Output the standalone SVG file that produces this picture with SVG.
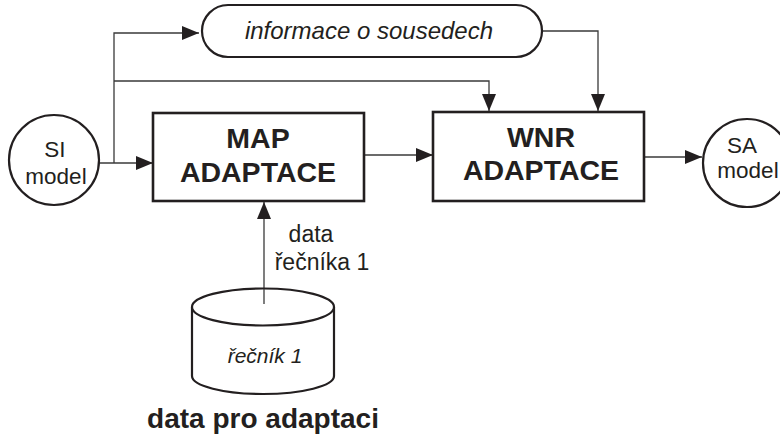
<svg xmlns="http://www.w3.org/2000/svg" width="780" height="439" viewBox="0 0 780 439">
<defs>
<marker id="arr" markerUnits="userSpaceOnUse" markerWidth="18" markerHeight="14" refX="17" refY="7" orient="auto">
<path d="M0,0 L17,7 L0,14 Z" fill="#231f20"/>
</marker>
<style>
.box{fill:#fff;stroke:#231f20;stroke-width:2.6}
.shape{fill:#fff;stroke:#231f20;stroke-width:2.2}
.con{fill:none;stroke:#3a3a3a;stroke-width:1.3}
.t{font-family:"Liberation Sans",Arial,sans-serif;fill:#231f20;text-anchor:middle}
.b{font-weight:bold;font-size:28.5px}
.i{font-style:italic}
</style>
</defs>
<rect width="780" height="439" fill="#fff"/>
<g id="connectors">
<line class="con" x1="99" y1="163" x2="153" y2="163" marker-end="url(#arr)"/>
<polyline class="con" points="114,163 114,33 199,33" marker-end="url(#arr)"/>
<polyline class="con" points="114,81 489,81 489,111" marker-end="url(#arr)"/>
<polyline class="con" points="542,31 598,31 598,111" marker-end="url(#arr)"/>
<line class="con" x1="364" y1="155" x2="433" y2="155" marker-end="url(#arr)"/>
<line class="con" x1="644" y1="157" x2="702" y2="157" marker-end="url(#arr)"/>
<line class="con" x1="264" y1="304" x2="264" y2="202" marker-end="url(#arr)"/>
</g>
<g id="si-model">
<circle class="shape" cx="54" cy="160" r="45"/>
<text class="t" x="55" y="157" font-size="22.5">SI</text>
<text class="t" x="56" y="184" font-size="22.5">model</text>
</g>
<g id="info">
<rect class="shape" x="202" y="5" width="340" height="52" rx="26" ry="26"/>
<text class="t i" x="369" y="39" font-size="24">informace o sousedech</text>
</g>
<g id="map">
<rect class="box" x="153" y="113" width="211" height="88"/>
<text class="t b" x="258" y="148">MAP</text>
<text class="t b" x="258" y="182">ADAPTACE</text>
</g>
<g id="wnr">
<rect class="box" x="433" y="112" width="211" height="89"/>
<text class="t b" x="541" y="147">WNR</text>
<text class="t b" x="541" y="180">ADAPTACE</text>
</g>
<g id="sa-model">
<circle class="shape" cx="747" cy="163" r="44"/>
<text class="t" x="742" y="153" font-size="22.5">SA</text>
<text class="t" x="748" y="178" font-size="22.5">model</text>
</g>
<g id="data-label">
<text class="t" x="311" y="242" font-size="23">data</text>
<text class="t" x="322" y="270" font-size="23">řečníka 1</text>
</g>
<g id="db">
<path class="shape" d="M192,307 L192,376 A71,18 0 0 0 334,376 L334,307"/>
<ellipse class="shape" cx="263" cy="307" rx="71" ry="18.5"/>
<line class="con" x1="264" y1="304" x2="264" y2="289"/>
<text class="t i" x="265" y="363" font-size="21">řečník 1</text>
</g>
<text class="t" x="263" y="428" font-size="28" font-weight="bold">data pro adaptaci</text>
</svg>
